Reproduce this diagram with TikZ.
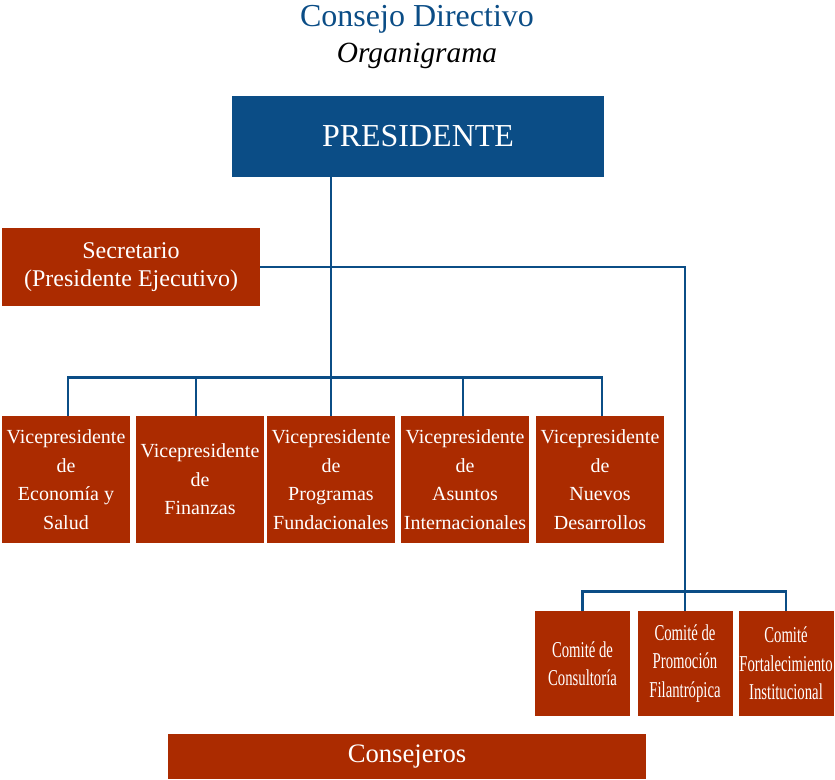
\documentclass[tikz,border=0pt]{standalone}
\usepackage{fontspec}
\setmainfont{Liberation Serif}
\newfontfamily\narrowfont[FakeStretch=0.65]{Liberation Serif}
\definecolor{cdblue}{HTML}{0B4D86}
\definecolor{cdred}{HTML}{AB2B00}

\begin{document}
\begin{tikzpicture}[x=0.75pt,y=-0.75pt,
  box/.style={fill=cdred,text=white,inner sep=0pt,align=center},
  vp/.style={box,minimum width=96pt,minimum height=95.25pt,font={\fontsize{15}{21.4}\selectfont}},
  com/.style={box,minimum width=71.25pt,minimum height=78.75pt,font={\narrowfont\fontsize{17}{21.4}\selectfont}},
  link/.style={draw=cdblue,line width=2pt}]
\useasboundingbox (0,0) rectangle (835,780);
\node[anchor=base,text=cdblue,font={\fontsize{24}{28}\selectfont}] (title) at (417,27) {Consejo Directivo};
\node[anchor=base,font={\fontsize{22}{26}\selectfont\itshape}] (sub) at (417,63) {Organigrama};
\node[fill=cdblue,text=white,minimum width=279pt,minimum height=60.75pt,font={\fontsize{24}{28}\selectfont}] (pres) at (418,136.5) {PRESIDENTE};
\node[box,minimum width=193.5pt,minimum height=58.5pt,font={\fontsize{18}{21}\selectfont}] (sec) at (131,267) {Secretario\\(Presidente Ejecutivo)};
\node[vp] (vp1) at (66,479.5) {Vicepresidente\\de\\Economía y\\Salud};
\node[vp] (vp2) at (200,479.5) {Vicepresidente\\de\\Finanzas};
\node[vp] (vp3) at (331,479.5) {Vicepresidente\\de\\Programas\\Fundacionales};
\node[vp] (vp4) at (465,479.5) {Vicepresidente\\de\\Asuntos\\Internacionales};
\node[vp] (vp5) at (600,479.5) {Vicepresidente\\de\\Nuevos\\Desarrollos};
\node[com] (com1) at (582.5,663.5) {Comité de\\Consultoría};
\node[com] (com2) at (685,663.5) {Comité de\\Promoción\\Filantrópica};
\node[com] (com3) at (786,663.5) {Comité\\Fortalecimiento\\Institucional};
\node[box,minimum width=358.5pt,minimum height=33.75pt,font={\fontsize{20}{24}\selectfont}] (cons) at (407,756.5) {Consejeros};

\draw[link] (sec.east) -| (com2.north);
\draw[link] (pres.south -| vp3) -- (vp3.north);
\draw[link] ([xshift=1.5pt]vp1.north) -- ++(0,-38) -| ([xshift=1.5pt]vp5.north);
\draw[link] ([xshift=-3pt]vp2.north) -- ++(0,-38);
\draw[link] ([xshift=-1.5pt]vp4.north) -- ++(0,-38);
\draw[link] (com1.north) -- ++(0,-19) -| (com3.north);
\end{tikzpicture}
\end{document}
